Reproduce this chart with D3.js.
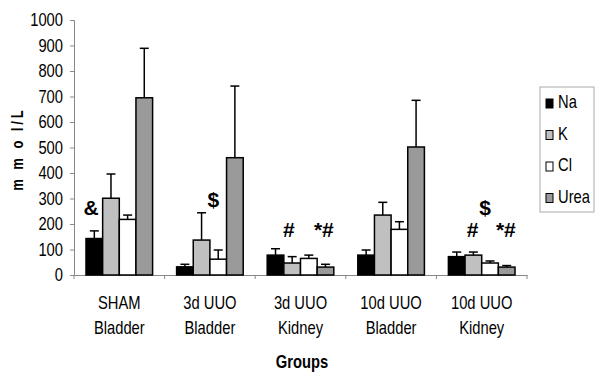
<!DOCTYPE html>
<html>
<head>
<meta charset="utf-8">
<script src="https://cdn.jsdelivr.net/npm/d3@7/dist/d3.min.js"></script>
<style>
body { margin:0; background:#fff; }
svg { font-family:"Liberation Sans",Arial,sans-serif; }
.axis path, .axis line { stroke:#888; }
</style>
</head>
<body>
<svg width="600" height="375"></svg>
<script>
// groups on the x axis
var groups = ["SHAM Bladder","3d UUO Bladder","3d UUO Kidney","10d UUO Bladder","10d UUO Kidney"];
var series = ["Na","K","Cl","Urea"];
var colors = ["#000000","#c0c0c0","#ffffff","#9a9a9a"];

// mean values per series, in group order
var naValues   = [143, 32, 78, 78, 72];
var kValues    = [301, 137, 47, 235, 78];
var clValues   = [218, 62, 65, 179, 47];
var ureaValues = [695, 460, 31, 502, 31];

// upper error (SD) per series
var naErr   = [30, 10, 25, 20, 18];
var kErr    = [95, 107, 25, 50, 12];
var clErr   = [17, 36, 13, 30, 8];
var ureaErr = [194, 281, 11, 183, 6];

var yTicks = [0,100,200,300,400,500,600,700,800,900,1000];

// significance marks: group, position along the bars (0 = left edge of Na), value at baseline
var marks = [
  {text:"&",  group:0, pos:0.3, value:235},
  {text:"$",  group:1, pos:2.2, value:267},
  {text:"#",  group:2, pos:1.3, value:149},
  {text:"*#", group:2, pos:3.4, value:149},
  {text:"$",  group:4, pos:2.2, value:235},
  {text:"#",  group:4, pos:1.45, value:149},
  {text:"*#", group:4, pos:3.45, value:149}
];

var allValues = [naValues,kValues,clValues,ureaValues];
var allErr = [naErr,kErr,clErr,ureaErr];

var svg = d3.select("svg");

var plot = {left:74, right:527, top:20, bottom:275};
var squeeze = 0.82; // the original uses a narrow face

// text squeezed horizontally around its anchor point
var narrowText = function(target,str,x,y,size,weight,anchor)
{
    return target.append("text")
        .text(str)
        .attr("transform","translate("+x+","+y+") scale("+squeeze+",1)")
        .attr("text-anchor",anchor||"start")
        .attr("font-size",size)
        .attr("font-weight",weight||"normal");
}

var xScale = d3.scaleBand()
    .domain(groups)
    .range([plot.left, plot.right]);

var innerScale = d3.scaleBand()
    .domain(series)
    .range([12, xScale.bandwidth()-12]);

var yScale = d3.scaleLinear()
    .domain([0,1000])
    .range([plot.bottom, plot.top]);

// axes
var yAxis = d3.axisLeft(yScale)
    .tickValues(yTicks)
    .tickFormat(d3.format("d"))
    .tickSize(4)
    .tickPadding(7);

svg.append("g")
    .classed("axis",true)
    .attr("transform","translate("+plot.left+",0)")
    .call(yAxis)
    .call(function(g){
        g.selectAll("text")
            .attr("font-size",18)
            .attr("fill","#000")
            .attr("font-family","inherit")
            .attr("x",-11/squeeze)
            .attr("transform","scale("+squeeze+",1)");
    });

var xAxis = d3.axisBottom(xScale)
    .tickValues([])
    .tickSizeOuter(0);

var xg = svg.append("g")
    .classed("axis",true)
    .attr("transform","translate(0,"+plot.bottom+")")
    .call(xAxis);

// tick marks between the groups
xg.selectAll("line.sep")
    .data(d3.range(groups.length+1))
    .enter()
    .append("line")
    .attr("x1",function(i){ return plot.left + i*xScale.step(); })
    .attr("x2",function(i){ return plot.left + i*xScale.step(); })
    .attr("y1",0)
    .attr("y2",4)
    .attr("stroke","#888");

// group labels on two lines
var labelG = svg.append("g");
groups.forEach(function(g){
    var words = g.split(" ");
    var line1 = words.slice(0, words.length-1).join(" ");
    var line2 = words[words.length-1];
    var cx = xScale(g) + xScale.bandwidth()/2;
    narrowText(labelG,line1,cx,309,18,"normal","middle");
    narrowText(labelG,line2,cx,334,18,"normal","middle");
});

// bars
var barData = [];
groups.forEach(function(g,gi){
    series.forEach(function(s,si){
        barData.push({group:g, series:s, si:si,
                      value:allValues[si][gi], err:allErr[si][gi]});
    });
});

var barCenter = function(d)
{
    return xScale(d.group)+innerScale(d.series)+innerScale.bandwidth()/2;
}

var bars = svg.append("g");

// error bars first, behind the boxes
var errG = bars.selectAll("g.err")
    .data(barData)
    .enter()
    .append("g")
    .attr("stroke","#000")
    .attr("stroke-width",1.5);

errG.append("line")
    .attr("x1",barCenter)
    .attr("x2",barCenter)
    .attr("y1",function(d){ return yScale(d.value); })
    .attr("y2",function(d){ return yScale(d.value+d.err); });

errG.append("line")
    .attr("x1",function(d){ return barCenter(d)-4.5; })
    .attr("x2",function(d){ return barCenter(d)+4.5; })
    .attr("y1",function(d){ return yScale(d.value+d.err); })
    .attr("y2",function(d){ return yScale(d.value+d.err); });

bars.selectAll("rect")
    .data(barData)
    .enter()
    .append("rect")
    .attr("x",function(d){ return xScale(d.group)+innerScale(d.series); })
    .attr("y",function(d){ return yScale(d.value); })
    .attr("width",innerScale.bandwidth())
    .attr("height",function(d){ return yScale(0)-yScale(d.value); })
    .attr("fill",function(d){ return colors[d.si]; })
    .attr("stroke","#000")
    .attr("stroke-width",1.5);

// significance marks
svg.append("g")
    .selectAll("text")
    .data(marks)
    .enter()
    .append("text")
    .text(function(m){ return m.text; })
    .attr("x",function(m){ return xScale(groups[m.group]) + innerScale(series[0]) + m.pos*innerScale.step(); })
    .attr("y",function(m){ return yScale(m.value); })
    .attr("text-anchor","middle")
    .attr("font-size",21)
    .attr("font-weight","bold");

// axis titles
narrowText(svg,"Groups",302,368,18,"bold","middle");

narrowText(svg.append("g").attr("transform","translate(23,149) rotate(-90)"),
           "m m o l/L",0,0,16,"bold","middle")
    .attr("letter-spacing",3.5);

// legend
var legend = svg.append("g")
    .attr("transform","translate(540,87)");

legend.append("rect")
    .attr("width",54).attr("height",125)
    .attr("fill","#fff")
    .attr("stroke","#aaa");

var entries = legend.selectAll("g")
    .data(series)
    .enter()
    .append("g")
    .attr("transform",function(s,i){ return "translate(0,"+(21+i*31.5)+")"; });

entries.append("rect")
    .attr("x",6).attr("y",-9)
    .attr("width",7).attr("height",9)
    .attr("fill",function(s,i){ return colors[i]; })
    .attr("stroke","#000")
    .attr("stroke-width",1);

entries.each(function(s){
    narrowText(d3.select(this),s,18,0,18,"normal","start");
});
</script>
</body>
</html>
